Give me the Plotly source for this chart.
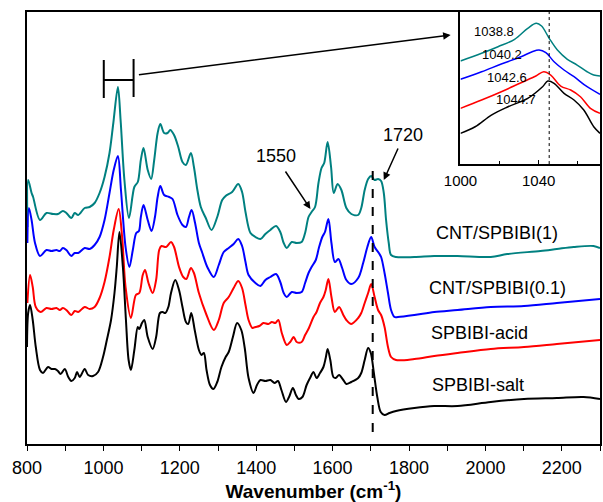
import plotly.graph_objects as go

# ---------------- main spectra (wavenumber, intensity a.u. incl. offset) ----------------
wn_cnt1 = [801, 803, 812, 816, 834, 851, 868, 881, 894, 903, 916, 925, 934, 951, 964, 977, 990, 1003, 1016, 1026,
           1038, 1045, 1055, 1067, 1081, 1090, 1098, 1105, 1116, 1125, 1133, 1142, 1149, 1159, 1168, 1175, 1185,
           1196, 1207, 1216, 1229, 1237, 1246, 1255, 1268, 1283, 1298, 1311, 1320, 1337, 1353, 1363, 1372, 1385,
           1398, 1411, 1424, 1437, 1452, 1463, 1472, 1480, 1493, 1506, 1519, 1528, 1537, 1545, 1554, 1563, 1571,
           1578, 1587, 1596, 1603, 1613, 1623, 1636, 1649, 1667, 1675, 1684, 1693, 1701, 1710, 1719, 1727, 1734,
           1740, 1747, 1753, 1766, 1814, 1866, 1927, 2014, 2057, 2144, 2187, 2231, 2283, 2300]
i_cnt1 = [217, 264, 251, 247, 224, 231, 230, 230, 233, 231, 226, 231, 229, 236, 237, 241, 251, 267, 291, 321,
          357, 324, 264, 226, 257, 262, 284, 296, 274, 265, 284, 311, 320, 311, 311, 314, 309,
          297, 282, 279, 291, 277, 254, 237, 226, 214, 227, 244, 248, 252, 260, 252, 232, 211,
          207, 205, 210, 214, 218, 212, 201, 196, 202, 201, 202, 211, 227, 232, 237, 261, 276,
          281, 302, 277, 251, 260, 254, 236, 230, 229, 236, 254, 265, 268, 264, 265, 263, 251,
          224, 201, 189, 187, 187, 188, 188, 187, 190, 193, 195, 197, 198, 196]

wn_cnt01 = [801, 805, 812, 821, 834, 851, 864, 877, 886, 894, 903, 916, 925, 934, 951, 964, 977, 990, 1003, 1016,
            1027, 1038, 1046, 1058, 1068, 1077, 1086, 1093, 1098, 1105, 1116, 1126, 1135, 1142, 1149, 1159, 1172,
            1181, 1194, 1207, 1216, 1224, 1231, 1240, 1250, 1259, 1272, 1289, 1302, 1315, 1328, 1341, 1353, 1363,
            1372, 1380, 1398, 1411, 1424, 1437, 1452, 1463, 1472, 1480, 1493, 1506, 1519, 1528, 1537, 1545, 1556,
            1564, 1573, 1580, 1589, 1597, 1606, 1615, 1625, 1636, 1649, 1667, 1680, 1691, 1701, 1710, 1721, 1727,
            1736, 1745, 1753, 1762, 1771, 1814, 1866, 1927, 2014, 2101, 2187, 2300]
i_cnt01 = [201, 236, 224, 201, 188, 194, 193, 194, 193, 196, 194, 188, 191, 191, 196, 195, 199, 207, 224, 251,
           274, 288, 254, 197, 177, 194, 211, 213, 227, 239, 224, 213, 227, 247, 258, 249, 247,
           245, 229, 219, 217, 227, 234, 221, 201, 191, 177, 167, 179, 192, 196, 200, 205, 198,
           182, 169, 161, 158, 164, 167, 170, 162, 151, 147, 152, 151, 152, 161, 171, 177, 184,
           196, 207, 212, 225, 201, 182, 185, 176, 164, 160, 166, 181, 197, 207, 197, 191, 187,
           171, 151, 134, 127, 127, 129, 132, 134, 137, 138, 141, 145]

wn_acid = [801, 808, 815, 823, 836, 851, 864, 877, 886, 894, 903, 916, 925, 934, 951, 964, 977, 990, 1003, 1016,
           1027, 1040, 1049, 1058, 1072, 1085, 1094, 1103, 1109, 1118, 1129, 1138, 1146, 1152, 1164, 1177, 1185,
           1198, 1209, 1217, 1229, 1237, 1250, 1268, 1289, 1302, 1315, 1328, 1341, 1353, 1363, 1372, 1380, 1390,
           1398, 1408, 1419, 1432, 1441, 1450, 1458, 1467, 1480, 1489, 1498, 1506, 1519, 1528, 1538, 1550, 1558,
           1567, 1576, 1582, 1589, 1597, 1606, 1617, 1628, 1636, 1649, 1667, 1675, 1684, 1693, 1701, 1710, 1719,
           1727, 1736, 1745, 1753, 1766, 1814, 1866, 1927, 2014, 2101, 2187, 2300]
i_acid = [141, 169, 157, 137, 132, 136, 135, 136, 134, 136, 134, 129, 133, 132, 137, 135, 137, 146, 162, 187,
          214, 235, 207, 157, 126, 149, 151, 169, 174, 161, 151, 164, 194, 198, 197, 202, 197,
          177, 167, 165, 176, 171, 151, 131, 114, 124, 141, 147, 156, 163, 156, 139, 124, 116,
          117, 118, 121, 120, 122, 121, 124, 111, 99, 102, 107, 102, 102, 109, 116, 127, 132,
          141, 147, 154, 165, 147, 132, 137, 129, 124, 120, 126, 131, 141, 151, 160, 147, 134,
          129, 117, 97, 87, 84, 85, 88, 91, 95, 97, 100, 104]

wn_salt = [800, 803, 808, 815, 823, 834, 842, 855, 864, 873, 881, 888, 899, 908, 916, 925, 931, 938, 951, 960,
           973, 986, 999, 1009, 1020, 1029, 1035, 1042, 1051, 1059, 1066, 1072, 1081, 1090, 1094, 1101, 1107,
           1116, 1129, 1138, 1148, 1155, 1162, 1170, 1177, 1188, 1198, 1207, 1216, 1222, 1230, 1239, 1250, 1257,
           1263, 1270, 1279, 1288, 1298, 1309, 1320, 1328, 1339, 1350, 1361, 1370, 1380, 1393, 1402, 1411, 1424,
           1437, 1448, 1457, 1466, 1478, 1486, 1496, 1504, 1511, 1521, 1532, 1541, 1550, 1558, 1567, 1576, 1582,
           1587, 1594, 1602, 1608, 1617, 1628, 1636, 1649, 1667, 1675, 1684, 1693, 1700, 1708, 1717, 1726, 1736,
           1749, 1766, 1814, 1866, 1927, 2014, 2101, 2187, 2257, 2300]
i_salt = [97, 131, 139, 124, 97, 74, 71, 77, 75, 75, 73, 70, 75, 67, 63, 66, 72, 67, 75, 69,
          68, 72, 87, 104, 124, 151, 177, 212, 177, 124, 84, 74, 94, 117, 115, 121, 124,
          107, 95, 107, 131, 132, 131, 137, 151, 164, 154, 137, 122, 120, 131, 114, 94, 89,
          91, 74, 59, 55, 62, 77, 87, 92, 107, 121, 114, 96, 66, 51, 59, 64, 63,
          64, 61, 63, 54, 42, 47, 56, 49, 45, 47, 59, 66, 72, 66, 71, 77, 86,
          95, 84, 67, 66, 69, 64, 60, 62, 66, 71, 84, 96, 91, 71, 47, 32, 29,
          31, 33, 36, 38, 38, 42, 45, 46, 47, 45]

# ---------------- inset spectra (1000-1071 cm-1) ----------------
wn_in_cnt1 = [1000, 1010.8, 1019.2, 1027.7, 1034.4, 1038.8, 1041.5, 1045.4, 1049.6, 1054.7, 1059.7, 1064.8, 1068.2, 1071.4]
i_in_cnt1 = [103, 110.7, 117.3, 124.7, 135.7, 140.7, 138, 125.7, 114, 104.7, 99, 92.3, 89, 88]
wn_in_cnt01 = [1000, 1010.8, 1020.9, 1031, 1036.7, 1040.2, 1043.7, 1047.9, 1053, 1058.1, 1064.8, 1071.4]
i_in_cnt01 = [84.7, 92.3, 100, 107.3, 112.3, 114, 111.3, 102.3, 94, 87.3, 77.3, 69.7]
wn_in_acid = [1000, 1010.8, 1020.9, 1031, 1038.6, 1042.6, 1046.2, 1051.3, 1056.4, 1061.4, 1066.5, 1071.4]
i_in_acid = [55.7, 64, 72.3, 81.3, 88, 92.3, 89, 78, 74, 67.3, 55.7, 50.7]
wn_in_salt = [1000, 1007.5, 1015.8, 1024.3, 1034.4, 1042, 1044.7, 1047.9, 1053, 1058.1, 1063.1, 1068.2, 1071.4]
i_in_salt = [30.7, 37.3, 49, 57.3, 65.7, 77.3, 83, 80.7, 70.7, 64, 54, 37.3, 30.7]

series_names = ["CNT/SPBIBI(1)", "CNT/SPBIBI(0.1)", "SPBIBI-acid", "SPBIBI-salt"]
series_colors = ["#008080", "#0000FF", "#FF0000", "#000000"]
peak_labels = ["1038.8", "1040.2", "1042.6", "1044.7"]
x_ticks_main = [800, 1000, 1200, 1400, 1600, 1800, 2000, 2200]
x_ticks_inset = [1000, 1040]

FONT = "Arial, Liberation Sans, sans-serif"

main_data = [(wn_cnt1, i_cnt1), (wn_cnt01, i_cnt01), (wn_acid, i_acid), (wn_salt, i_salt)]
inset_data = [(wn_in_cnt1, i_in_cnt1), (wn_in_cnt01, i_in_cnt01), (wn_in_acid, i_in_acid), (wn_in_salt, i_in_salt)]

fig = go.Figure()
for (x, y), name, col in zip(main_data, series_names, series_colors):
    fig.add_trace(go.Scatter(x=x, y=y, mode="lines", name=name,
                             line=dict(color=col, width=2, shape="spline", smoothing=0.9),
                             xaxis="x", yaxis="y", showlegend=False))
for (x, y), name, col in zip(inset_data, series_names, series_colors):
    fig.add_trace(go.Scatter(x=x, y=y, mode="lines", name=name,
                             line=dict(color=col, width=1.5, shape="spline", smoothing=1.0),
                             xaxis="x2", yaxis="y2", showlegend=False))

ann = []
# curve labels
label_pos = [(2031, 211), (2031, 156), (1984, 111), (1980, 59)]
for name, (lx, ly) in zip(series_names, label_pos):
    ann.append(dict(x=lx, y=ly, xref="x", yref="y", text=name, showarrow=False,
                    font=dict(size=18, color="black", family=FONT)))
# inset peak labels
inset_label_pos = [(1017.4, 132.3), (1021.3, 110), (1023.6, 86.7), (1028.5, 64.7)]
for t, (lx, ly) in zip(peak_labels, inset_label_pos):
    ann.append(dict(x=lx, y=ly, xref="x2", yref="y2", text=t, showarrow=False,
                    font=dict(size=13, color="black", family=FONT)))
# 1550 / 1720 texts and arrows
ann.append(dict(x=1453, y=288, xref="x", yref="y", text="1550", showarrow=False,
                font=dict(size=18, color="black", family=FONT)))
ann.append(dict(x=1542, y=235, ax=1474, ay=274, xref="x", yref="y", axref="x", ayref="y",
                text="", showarrow=True, arrowhead=2, arrowsize=1, arrowwidth=1.5, arrowcolor="black"))
ann.append(dict(x=1784, y=309, xref="x", yref="y", text="1720", showarrow=False,
                font=dict(size=18, color="black", family=FONT)))
ann.append(dict(x=1734, y=264, ax=1773, ay=297, xref="x", yref="y", axref="x", ayref="y",
                text="", showarrow=True, arrowhead=2, arrowsize=1, arrowwidth=1.5, arrowcolor="black"))
# long arrow from bracket to inset
ann.append(dict(x=1909, y=409, ax=1089, ay=369, xref="x", yref="y", axref="x", ayref="y",
                text="", showarrow=True, arrowhead=2, arrowsize=1, arrowwidth=1.5, arrowcolor="black"))

shapes = [
    # bracket marking 1000-1080 region
    dict(type="line", xref="x", yref="y", x0=1001, x1=1001, y0=346, y1=384, line=dict(color="black", width=2)),
    dict(type="line", xref="x", yref="y", x0=1079, x1=1079, y0=347, y1=385, line=dict(color="black", width=2)),
    dict(type="line", xref="x", yref="y", x0=1001, x1=1079, y0=364, y1=364, line=dict(color="black", width=2)),
    # dashed line at ~1705
    dict(type="line", xref="x", yref="y", x0=1705, x1=1705, y0=12, y1=281,
         line=dict(color="black", width=2, dash="dash")),
    # dotted line in inset
    dict(type="line", xref="x2", yref="y2", x0=1045.4, x1=1045.4, y0=0, y1=152,
         line=dict(color="black", width=1, dash="dot")),
]

fig.update_layout(
    width=603, height=502,
    margin=dict(l=27, r=1, t=12, b=58),
    paper_bgcolor="white", plot_bgcolor="white",
    font=dict(family=FONT, color="black"),
    annotations=ann, shapes=shapes,
    xaxis=dict(range=[800, 2300], domain=[0, 1], tickvals=x_ticks_main, ticks="outside", ticklen=5,
               tickwidth=1.2, tickcolor="black", showline=True, linecolor="black", linewidth=1.5, mirror=True,
               showgrid=False, zeroline=False, tickfont=dict(size=18), ticklabelstandoff=2,
               minor=dict(dtick=100, tick0=800, ticks="outside", ticklen=5, tickcolor="black", tickwidth=1.2),
               title=dict(text="<b>Wavenumber (cm<sup>-1</sup>)</b>", font=dict(size=19), standoff=6),
               anchor="y"),
    yaxis=dict(range=[0, 432], domain=[0, 1], showticklabels=False, ticks="", showline=True,
               linecolor="black", linewidth=1.5, mirror=True, showgrid=False, zeroline=False, anchor="x"),
    xaxis2=dict(range=[1000, 1071.4], domain=[0.7565, 1], tickvals=x_ticks_inset, ticks="inside", ticklen=4,
                tickcolor="black", showline=True, linecolor="black", linewidth=1.5, mirror=True,
                showgrid=False, zeroline=False, tickfont=dict(size=15), ticklabelstandoff=2,
                minor=dict(dtick=20, tick0=1000, ticks="inside", ticklen=3, tickcolor="black"),
                anchor="y2"),
    yaxis2=dict(range=[0, 152], domain=[0.648, 1], showticklabels=False, ticks="", showline=True,
                linecolor="black", linewidth=1.5, mirror=True, showgrid=False, zeroline=False, anchor="x2"),
)

fig.write_html("out.html")
